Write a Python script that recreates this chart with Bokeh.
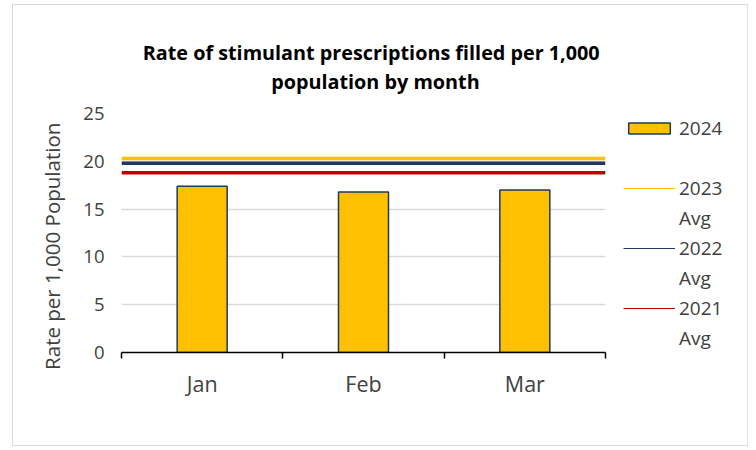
from bokeh.plotting import figure
from bokeh.models import FixedTicker, Legend, LegendItem, Range1d
from bokeh.embed import file_html
from bokeh.resources import INLINE

title_lines = ["Rate of stimulant prescriptions filled per 1,000", "population by month"]
y_label = "Rate per 1,000 Population"
months = ["Jan", "Feb", "Mar"]
rate_2024 = [17.4, 16.8, 17.0]
avg_labels = ["2023", "2022", "2021"]
avg_values = [20.3, 19.8, 18.8]
avg_colors = ["#FFC000", "#1F3864", "#C00000"]
y_ticks = [0, 5, 10, 15, 20, 25]

FONT = "Open Sans"
TXT = "#404040"
NB = "\u00a0"

n = len(months)
centers = [i + 0.5 for i in range(n)]
bounds = list(range(n + 1))

p = figure(frame_width=484, frame_height=239, x_range=Range1d(0, n), y_range=Range1d(0, 25),
           output_backend="svg", toolbar_location=None,
           min_border_left=108, min_border_right=142, min_border_top=108, min_border_bottom=93)
p.stylesheets = [":host { margin-left: 13px; margin-top: 5px; width: 734px !important; "
                 "height: 440px !important; outline: 1px solid #d9d9d9; outline-offset: 0px; }"]
p.outline_line_color = None

# multi-line title; lines padded so the second line sits centred under the first
p.title.text = NB * 3 + title_lines[0] + "\n" + NB * 28 + title_lines[1]
p.title.align = "center"
p.title.standoff = 36
p.title.text_line_height = 1.1
p.title.text_font = FONT
p.title.text_font_size = "19.8px"
p.title.text_font_style = "bold"
p.title.text_color = "#000000"

bars = p.vbar(x=centers, top=rate_2024, width=0.31, fill_color="#FFC000",
              line_color="#1F3864", line_width=1.5)

leg_items = [LegendItem(label="2024", renderers=[bars])]
blank = p.line(x=[0, 0], y=[0, 0], line_alpha=0)
leg_items.append(LegendItem(label=" ", renderers=[blank]))
for lab, v, c in zip(avg_labels, avg_values, avg_colors):
    p.line(x=[0, n], y=[v, v], line_color=c, line_width=3.5)
    show = p.line(x=[float("nan")], y=[float("nan")], line_color=c, line_width=1.2)
    leg_items.append(LegendItem(label=lab, renderers=[show]))
    blank2 = p.line(x=[0, 0], y=[0, 0], line_alpha=0)
    leg_items.append(LegendItem(label="Avg", renderers=[blank2]))

legend = Legend(items=leg_items, location="center_left", margin=18, padding=0,
                spacing=0, glyph_width=52, glyph_height=14, label_height=30,
                label_standoff=4, label_text_font=FONT, label_text_font_size="19px",
                label_text_color=TXT, border_line_color=None, background_fill_alpha=0)
p.add_layout(legend, "right")

p.ygrid.grid_line_color = "#d9d9d9"
p.ygrid.grid_line_width = 1.5
p.xgrid.grid_line_color = None

p.yaxis.ticker = FixedTicker(ticks=y_ticks)
p.yaxis.axis_line_color = None
p.yaxis.major_tick_line_color = None
p.yaxis.major_tick_out = 0
p.yaxis.minor_tick_line_color = None
p.yaxis.major_label_standoff = 17
p.yaxis.major_label_text_font = FONT
p.yaxis.major_label_text_font_size = "18.5px"
p.yaxis.major_label_text_color = TXT
p.yaxis.axis_label = y_label + NB * 5
p.yaxis.axis_label_text_font = FONT
p.yaxis.axis_label_text_font_size = "20.5px"
p.yaxis.axis_label_text_font_style = "normal"
p.yaxis.axis_label_text_color = TXT
p.yaxis.axis_label_standoff = 14

p.xaxis.ticker = FixedTicker(ticks=centers, minor_ticks=bounds)
p.xaxis.major_label_overrides = {c: m for c, m in zip(centers, months)}
p.xaxis.axis_line_color = "#000000"
p.xaxis.axis_line_width = 1.5
p.xaxis.major_tick_line_color = None
p.xaxis.minor_tick_line_color = "#000000"
p.xaxis.minor_tick_line_width = 1.5
p.xaxis.minor_tick_out = 6
p.xaxis.minor_tick_in = 0
p.xaxis.major_label_standoff = 10
p.xaxis.major_label_text_font = FONT
p.xaxis.major_label_text_font_size = "21.5px"
p.xaxis.major_label_text_color = TXT

open("out.html", "w").write(file_html(p, INLINE))
